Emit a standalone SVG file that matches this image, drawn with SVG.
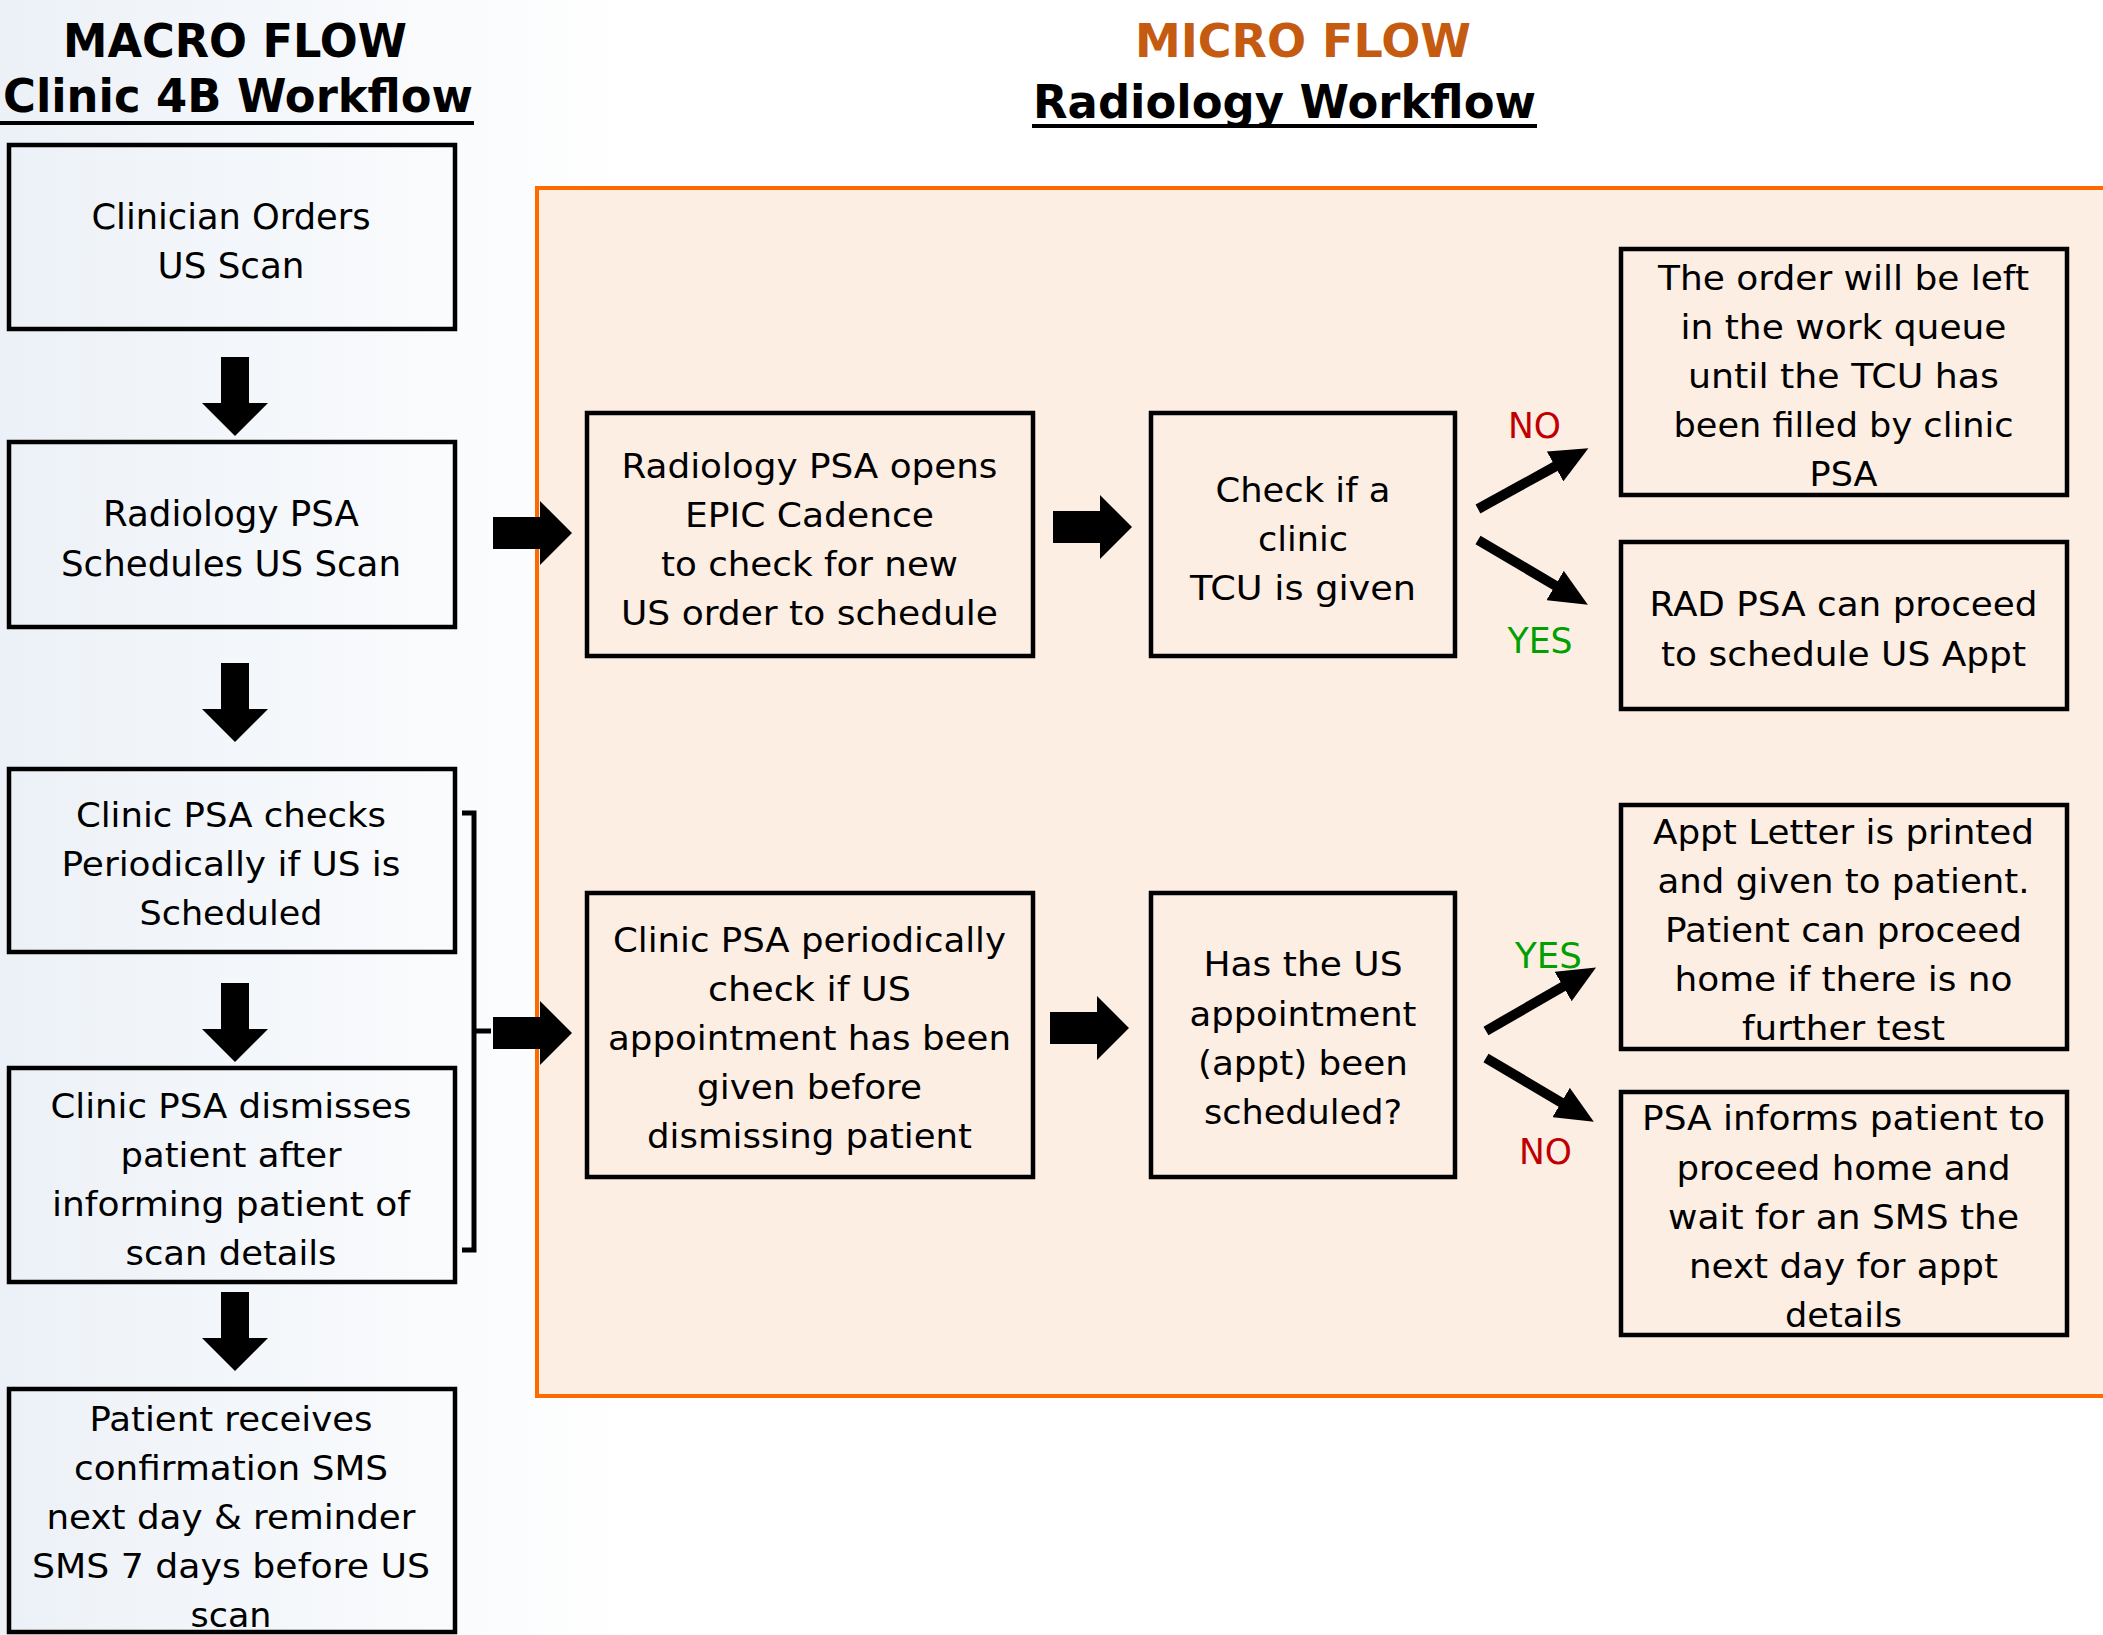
<svg xmlns="http://www.w3.org/2000/svg" width="2103" height="1635" viewBox="0 0 2103 1635">
<defs>
<linearGradient id="bg" x1="0" y1="0" x2="1" y2="0">
<stop offset="0" stop-color="#ECF1F7"/>
<stop offset="0.3" stop-color="#FFFFFF"/>
</linearGradient>
<marker id="ah" viewBox="0 0 38 34" refX="1" refY="17" markerWidth="38" markerHeight="34" markerUnits="userSpaceOnUse" orient="auto">
<path d="M0,0 L38,17 L0,34 Z" fill="#000"/>
</marker>
<path id="downArrow" d="M-14,0 H14 V46 H33 L0,79 L-33,46 H-14 Z"/>
<path id="rightArrow" d="M0,-16 H47 V-32 L79,0 L47,32 V16 H0 Z"/>
</defs>
<style>
.box { fill: none; stroke: #000; stroke-width: 4.5; }
.mbox { fill: #FDEEE4; stroke: #000; stroke-width: 4.5; }
.t { font-family: "DejaVu Sans", Verdana, sans-serif; font-size: 33px; fill: #000; text-anchor: middle; }
.tm { font-size: 36px; }
.h { font-family: "DejaVu Sans", Verdana, sans-serif; font-weight: bold; font-size: 47px; text-anchor: middle; fill: #000; }
.lab { font-family: "DejaVu Sans", Verdana, sans-serif; font-size: 36px; text-anchor: middle; }
.no { fill: #C00000; }
.yes { fill: #00A000; }
.diag { stroke: #000; stroke-width: 10; fill: none; marker-end: url(#ah); }
.blk { fill: #000; }
</style>
<rect x="0" y="0" width="2103" height="1635" fill="url(#bg)"/>

<g id="titles">
<text class="h" x="235" y="57" textLength="344" lengthAdjust="spacingAndGlyphs">MACRO FLOW</text>
<text class="h" x="238" y="112" textLength="470" lengthAdjust="spacingAndGlyphs">Clinic 4B Workflow</text>
<rect x="0" y="121" width="474" height="4" fill="#000"/>
<text class="h" x="1303" y="57" style="fill:#C55A11" textLength="336" lengthAdjust="spacingAndGlyphs">MICRO FLOW</text>
<text class="h" x="1284.5" y="118" textLength="503" lengthAdjust="spacingAndGlyphs">Radiology Workflow</text>
<rect x="1032" y="124" width="505" height="4" fill="#000"/>
</g>

<g id="micro-container">
<rect x="537" y="188" width="1600" height="1208" fill="#FDEEE4" stroke="#FF6A00" stroke-width="4"/>
</g>

<g id="node-clinician-orders">
<rect class="box" x="9" y="145" width="446" height="184"/>
<text class="t tm" x="231" y="229" textLength="279" lengthAdjust="spacingAndGlyphs">Clinician Orders</text>
<text class="t tm" x="231" y="278" textLength="147" lengthAdjust="spacingAndGlyphs">US Scan</text>
</g>

<g id="node-radiology-schedules">
<rect class="box" x="9" y="442" width="446" height="185"/>
<text class="t tm" x="231" y="526" textLength="256" lengthAdjust="spacingAndGlyphs">Radiology PSA</text>
<text class="t tm" x="231" y="576" textLength="340" lengthAdjust="spacingAndGlyphs">Schedules US Scan</text>
</g>

<g id="node-clinic-checks">
<rect class="box" x="9" y="769" width="446" height="183"/>
<text class="t" x="231" y="827" textLength="310" lengthAdjust="spacingAndGlyphs">Clinic PSA checks</text>
<text class="t" x="231" y="876" textLength="339" lengthAdjust="spacingAndGlyphs">Periodically if US is</text>
<text class="t" x="231" y="925" textLength="183" lengthAdjust="spacingAndGlyphs">Scheduled</text>
</g>

<g id="node-clinic-dismisses">
<rect class="box" x="9" y="1068" width="446" height="214"/>
<text class="t" x="231" y="1118" textLength="361" lengthAdjust="spacingAndGlyphs">Clinic PSA dismisses</text>
<text class="t" x="231" y="1167" textLength="221" lengthAdjust="spacingAndGlyphs">patient after</text>
<text class="t" x="231" y="1216" textLength="358" lengthAdjust="spacingAndGlyphs">informing patient of</text>
<text class="t" x="231" y="1265" textLength="211" lengthAdjust="spacingAndGlyphs">scan details</text>
</g>

<g id="node-patient-receives">
<rect class="box" x="9" y="1389" width="446" height="243"/>
<text class="t" x="231" y="1431" textLength="283" lengthAdjust="spacingAndGlyphs">Patient receives</text>
<text class="t" x="231" y="1480" textLength="314" lengthAdjust="spacingAndGlyphs">confirmation SMS</text>
<text class="t" x="231" y="1529" textLength="369" lengthAdjust="spacingAndGlyphs">next day &amp; reminder</text>
<text class="t" x="231" y="1578" textLength="398" lengthAdjust="spacingAndGlyphs">SMS 7 days before US</text>
<text class="t" x="231" y="1627" textLength="81" lengthAdjust="spacingAndGlyphs">scan</text>
</g>

<g id="node-rad-opens">
<rect class="mbox" x="587" y="413" width="446" height="243"/>
<text class="t" x="809.5" y="478" textLength="376" lengthAdjust="spacingAndGlyphs">Radiology PSA opens</text>
<text class="t" x="809.5" y="527" textLength="249" lengthAdjust="spacingAndGlyphs">EPIC Cadence</text>
<text class="t" x="809.5" y="576" textLength="297" lengthAdjust="spacingAndGlyphs">to check for new</text>
<text class="t" x="809.5" y="625" textLength="377" lengthAdjust="spacingAndGlyphs">US order to schedule</text>
</g>

<g id="node-check-tcu">
<rect class="mbox" x="1151" y="413" width="304" height="243"/>
<text class="t" x="1303" y="502" textLength="175" lengthAdjust="spacingAndGlyphs">Check if a</text>
<text class="t" x="1303" y="551" textLength="90" lengthAdjust="spacingAndGlyphs">clinic</text>
<text class="t" x="1303" y="600" textLength="226" lengthAdjust="spacingAndGlyphs">TCU is given</text>
</g>

<g id="node-order-left">
<rect class="mbox" x="1621" y="249" width="446" height="246"/>
<text class="t" x="1843.5" y="290" textLength="371" lengthAdjust="spacingAndGlyphs">The order will be left</text>
<text class="t" x="1843.5" y="339" textLength="326" lengthAdjust="spacingAndGlyphs">in the work queue</text>
<text class="t" x="1843.5" y="388" textLength="311" lengthAdjust="spacingAndGlyphs">until the TCU has</text>
<text class="t" x="1843.5" y="437" textLength="340" lengthAdjust="spacingAndGlyphs">been filled by clinic</text>
<text class="t" x="1843.5" y="486" textLength="68" lengthAdjust="spacingAndGlyphs">PSA</text>
</g>

<g id="node-rad-proceed">
<rect class="mbox" x="1621" y="542" width="446" height="167"/>
<text class="t" x="1843.5" y="616" textLength="388" lengthAdjust="spacingAndGlyphs">RAD PSA can proceed</text>
<text class="t" x="1843.5" y="666" textLength="365" lengthAdjust="spacingAndGlyphs">to schedule US Appt</text>
</g>

<g id="node-clinic-periodically">
<rect class="mbox" x="587" y="893" width="446" height="284"/>
<text class="t" x="809.5" y="952" textLength="393" lengthAdjust="spacingAndGlyphs">Clinic PSA periodically</text>
<text class="t" x="809.5" y="1001" textLength="203" lengthAdjust="spacingAndGlyphs">check if US</text>
<text class="t" x="809.5" y="1050" textLength="403" lengthAdjust="spacingAndGlyphs">appointment has been</text>
<text class="t" x="809.5" y="1099" textLength="225" lengthAdjust="spacingAndGlyphs">given before</text>
<text class="t" x="809.5" y="1148" textLength="325" lengthAdjust="spacingAndGlyphs">dismissing patient</text>
</g>

<g id="node-has-us">
<rect class="mbox" x="1151" y="893" width="304" height="284"/>
<text class="t" x="1303" y="976" textLength="199" lengthAdjust="spacingAndGlyphs">Has the US</text>
<text class="t" x="1303" y="1026" textLength="227" lengthAdjust="spacingAndGlyphs">appointment</text>
<text class="t" x="1303" y="1075" textLength="210" lengthAdjust="spacingAndGlyphs">(appt) been</text>
<text class="t" x="1303" y="1124" textLength="198" lengthAdjust="spacingAndGlyphs">scheduled?</text>
</g>

<g id="node-appt-letter">
<rect class="mbox" x="1621" y="805" width="446" height="244"/>
<text class="t" x="1843.5" y="844" textLength="381" lengthAdjust="spacingAndGlyphs">Appt Letter is printed</text>
<text class="t" x="1843.5" y="893" textLength="372" lengthAdjust="spacingAndGlyphs">and given to patient.</text>
<text class="t" x="1843.5" y="942" textLength="357" lengthAdjust="spacingAndGlyphs">Patient can proceed</text>
<text class="t" x="1843.5" y="991" textLength="338" lengthAdjust="spacingAndGlyphs">home if there is no</text>
<text class="t" x="1843.5" y="1040" textLength="203" lengthAdjust="spacingAndGlyphs">further test</text>
</g>

<g id="node-psa-informs">
<rect class="mbox" x="1621" y="1092" width="446" height="243"/>
<text class="t" x="1843.5" y="1130" textLength="403" lengthAdjust="spacingAndGlyphs">PSA informs patient to</text>
<text class="t" x="1843.5" y="1180" textLength="334" lengthAdjust="spacingAndGlyphs">proceed home and</text>
<text class="t" x="1843.5" y="1229" textLength="351" lengthAdjust="spacingAndGlyphs">wait for an SMS the</text>
<text class="t" x="1843.5" y="1278" textLength="309" lengthAdjust="spacingAndGlyphs">next day for appt</text>
<text class="t" x="1843.5" y="1327" textLength="117" lengthAdjust="spacingAndGlyphs">details</text>
</g>

<g id="connectors">
<use href="#downArrow" class="blk" x="235" y="357"/>
<use href="#downArrow" class="blk" x="235" y="663"/>
<use href="#downArrow" class="blk" x="235" y="983"/>
<use href="#downArrow" class="blk" x="235" y="1292"/>
<path d="M462,813 H474 V1250 H462 M474,1031 H491" fill="none" stroke="#000" stroke-width="5"/>
<use href="#rightArrow" class="blk" x="493" y="533"/>
<use href="#rightArrow" class="blk" x="1053" y="527"/>
<use href="#rightArrow" class="blk" x="493" y="1033"/>
<use href="#rightArrow" class="blk" x="1050" y="1028"/>
<path class="diag" d="M1478,509 L1556,466"/>
<path class="diag" d="M1478,540 L1556,586"/>
<path class="diag" d="M1486,1031 L1564,986"/>
<path class="diag" d="M1486,1058 L1562,1103"/>
<text class="lab no" x="1534.5" y="438" textLength="53" lengthAdjust="spacingAndGlyphs">NO</text>
<text class="lab yes" x="1540" y="653" textLength="65" lengthAdjust="spacingAndGlyphs">YES</text>
<text class="lab yes" x="1548.5" y="968" textLength="67" lengthAdjust="spacingAndGlyphs">YES</text>
<text class="lab no" x="1545.5" y="1164" textLength="53" lengthAdjust="spacingAndGlyphs">NO</text>
</g>
</svg>
